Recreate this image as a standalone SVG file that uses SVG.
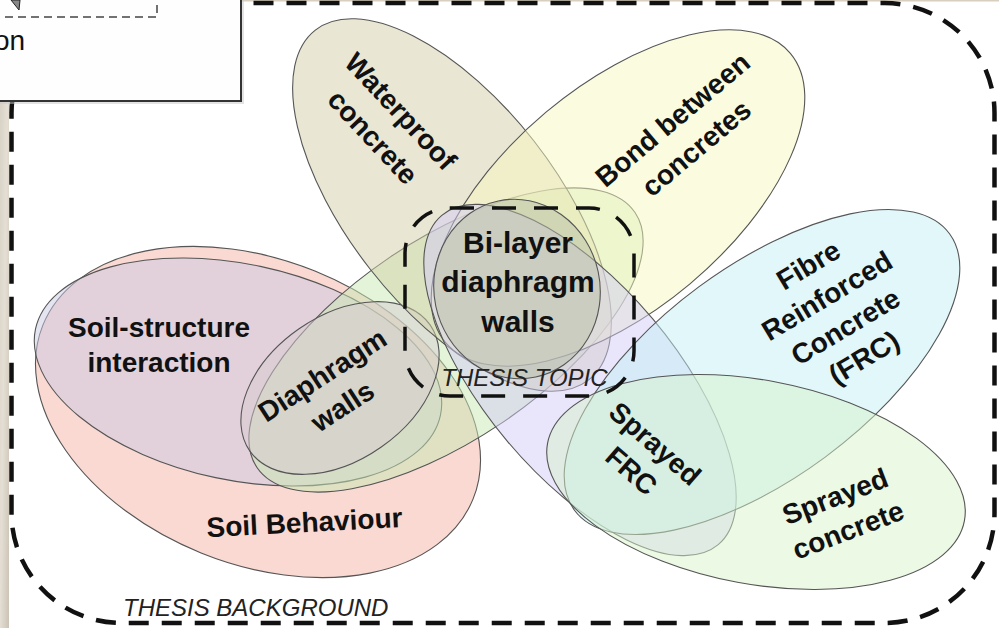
<svg xmlns="http://www.w3.org/2000/svg" width="999" height="628" viewBox="0 0 999 628">
<defs>
<linearGradient id="tex" x1="0" y1="0" x2="1" y2="1">
<stop offset="0" stop-color="#d6cfc2"/>
<stop offset="0.5" stop-color="#e4ded4"/>
<stop offset="1" stop-color="#cbc3b5"/>
</linearGradient>
<style>
.e{stroke:#555;stroke-width:1.1;fill-opacity:0.5}
.lbl{font-family:"Liberation Sans",Arial,sans-serif;font-weight:bold;font-size:28px;fill:#111;text-anchor:middle}
.big{font-size:30px}
.cap{font-family:"Liberation Sans",Arial,sans-serif;font-style:italic;font-size:24px;fill:#222}
.frame{fill:none;stroke:#111;stroke-width:4.5;stroke-dasharray:20 13}
.topic{fill:none;stroke:#111;stroke-width:3.5;stroke-dasharray:24 18}
</style>
</defs>
<rect x="0" y="0" width="999" height="628" fill="#ffffff"/>
<rect x="0" y="0" width="9" height="628" fill="url(#tex)"/>
<rect x="0" y="0" width="999" height="1.5" fill="#d8cfc0"/>

<g id="soil-behaviour"><ellipse class="e" cx="258" cy="412" rx="232" ry="152" transform="rotate(22 258 412)" fill="#f4b4a6"/></g>
<g id="soil-structure"><ellipse class="e" cx="238" cy="372" rx="207" ry="108" transform="rotate(12 238 372)" fill="#ccc9e4"/></g>
<g id="green"><ellipse class="e" cx="446" cy="340" rx="228" ry="100" transform="rotate(-34 446 340)" fill="#c8eab4"/></g>
<g id="diaphragm-walls"><ellipse class="e" cx="340" cy="388" rx="110" ry="72" transform="rotate(-35 340 388)" fill="#d8ccd0"/></g>
<g id="waterproof"><ellipse class="e" cx="452" cy="205" rx="222" ry="104" transform="rotate(52 452 205)" fill="#d4d0a8"/></g>
<g id="bond"><ellipse class="e" cx="618" cy="198" rx="225" ry="112" transform="rotate(-40 618 198)" fill="#f8f8c0"/></g>
<g id="lavender"><ellipse class="e" cx="580" cy="380" rx="215" ry="95" transform="rotate(50 580 380)" fill="#d4ccf6"/></g>
<g id="frc"><ellipse class="e" cx="762" cy="372" rx="233" ry="106" transform="rotate(-36.4 762 372)" fill="#c4f0f6"/></g>
<g id="sprayed-concrete"><ellipse class="e" cx="756" cy="482" rx="212" ry="102" transform="rotate(10.5 756 482)" fill="#d8f4cc"/></g>
<g id="bilayer"><ellipse class="e" cx="517" cy="289" rx="83" ry="90" transform="rotate(-12 517 289)" fill="#b8bea8"/></g>

<g id="labels">
<g transform="translate(387 124) rotate(47)"><text class="lbl" x="0" y="-9">Waterproof</text><text class="lbl" x="0" y="29">concrete</text></g>
<g transform="translate(684.5 134) rotate(-40)"><text class="lbl" x="0" y="-9">Bond between</text><text class="lbl" x="0" y="28">concretes</text></g>
<g transform="translate(836 311) rotate(-31)"><text class="lbl" x="0" y="-44">Fibre</text><text class="lbl" x="0" y="-8">Reinforced</text><text class="lbl" x="0" y="28">Concrete</text><text class="lbl" x="0" y="64">(FRC)</text></g>
<g transform="translate(841.5 513) rotate(-21)"><text class="lbl" x="0" y="-8">Sprayed</text><text class="lbl" x="0" y="28">concrete</text></g>
<g transform="translate(643.5 457) rotate(41)"><text class="lbl" x="0" y="-8">Sprayed</text><text class="lbl" x="0" y="28">FRC</text></g>
<g transform="translate(332 390) rotate(-33)"><text class="lbl" x="0" y="-8">Diaphragm</text><text class="lbl" x="0" y="29">walls</text></g>
<text class="lbl" x="159" y="337">Soil-structure</text>
<text class="lbl" x="159" y="372">interaction</text>
<g transform="translate(305 532) rotate(-3)"><text class="lbl" x="0" y="0">Soil Behaviour</text></g>
<text class="lbl big" x="518" y="253">Bi-layer</text>
<text class="lbl big" x="518" y="292">diaphragm</text>
<text class="lbl big" x="518" y="332">walls</text>
</g>

<g id="frames">
<rect id="thesis-background" class="frame" x="11.5" y="3" width="983" height="620" rx="110" ry="110"/>
<rect id="thesis-topic" class="topic" x="405" y="208" width="229" height="188" rx="45" ry="45"/>
<text class="cap" x="524.5" y="386" text-anchor="middle">THESIS TOPIC</text>
<text class="cap" x="123" y="616">THESIS BACKGROUND</text>
</g>

<g id="legend-box">
<rect x="-3" y="-3" width="247" height="107" fill="#c8c8c8" opacity="0.5"/>
<rect x="-2" y="-2" width="243" height="103" fill="#fefefe" stroke="#333" stroke-width="2"/>
<rect x="-10" y="-10" width="167" height="27" fill="none" stroke="#444" stroke-width="1.5" stroke-dasharray="8 5"/>
<polygon points="11,0 20,0 19,10" fill="#888" stroke="#222" stroke-width="1"/>
<text x="-6" y="50" font-family="Liberation Sans, Arial, sans-serif" font-size="28" fill="#111">on</text>
</g>
</svg>
